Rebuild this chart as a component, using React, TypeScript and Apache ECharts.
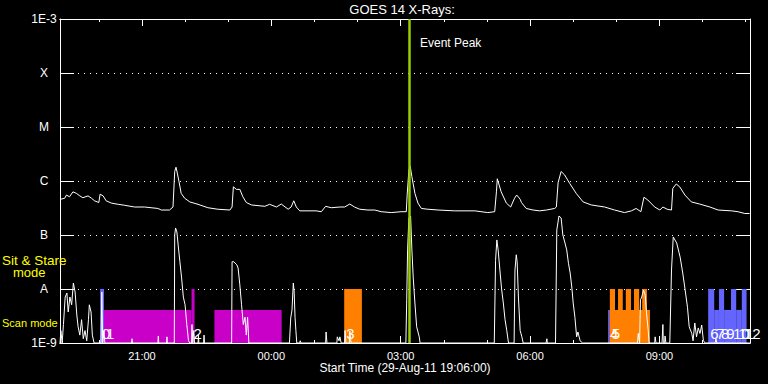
import React, { useEffect, useRef } from 'react';
import * as echarts from 'echarts';

// Time axis in hours since 29-Aug-11 00:00 UT (19.1 = 19:06)
const START_HOUR = 19.1;
const END_HOUR = 35.1;
const EVENT_PEAK_HOUR = 27.19;
const BASE_FLUX = 1e-9;

const yClassLabels: Record<number, string> = {
  '-3': '1E-3', '-4': 'X', '-5': 'M', '-6': 'C', '-7': 'B', '-8': 'A', '-9': '1E-9',
} as any;

// GOES long channel (1-8 A)
const longChannel: [number, number][] = [
  [19.10, 4.6e-7], [19.12, 4.6e-7], [19.21, 4.8e-7], [19.25, 5.5e-7], [19.32, 5.1e-7], [19.40, 6.3e-7],
  [19.48, 5.9e-7], [19.56, 5.3e-7], [19.63, 4.9e-7], [19.75, 5.3e-7], [19.83, 4.8e-7], [19.90, 4.3e-7],
  [20.00, 4.0e-7], [20.03, 5.7e-7], [20.10, 5.3e-7], [20.17, 4.3e-7], [20.29, 3.9e-7], [20.45, 3.7e-7],
  [20.60, 3.55e-7], [20.83, 3.3e-7], [21.06, 3.3e-7], [21.37, 3.1e-7], [21.45, 2.9e-7], [21.64, 2.9e-7],
  [21.72, 3.3e-7], [21.76, 1.5e-6], [21.79, 1.8e-6], [21.82, 1.4e-6], [21.86, 9.7e-7], [21.91, 5.9e-7],
  [21.99, 4.8e-7], [22.11, 4.1e-7], [22.30, 3.7e-7], [22.53, 3.2e-7], [22.76, 3.0e-7], [23.04, 2.9e-7],
  [23.09, 3.3e-7], [23.12, 7.8e-7], [23.19, 7.0e-7], [23.27, 7.0e-7], [23.34, 5.1e-7], [23.42, 4.0e-7],
  [23.54, 3.6e-7], [23.85, 3.4e-7], [23.96, 3.7e-7], [24.12, 3.3e-7], [24.23, 3.75e-7], [24.39, 3.0e-7],
  [24.46, 3.3e-7], [24.52, 4.3e-7], [24.58, 3.3e-7], [24.66, 2.8e-7], [24.85, 2.8e-7], [25.04, 2.8e-7],
  [25.16, 2.7e-7], [25.26, 3.4e-7], [25.39, 3.2e-7], [25.59, 3.3e-7], [25.70, 3.3e-7], [25.82, 3.75e-7],
  [25.93, 3.3e-7], [26.05, 3.0e-7], [26.24, 2.9e-7], [26.40, 2.9e-7], [26.55, 2.7e-7], [26.78, 2.6e-7],
  [27.01, 2.7e-7], [27.13, 2.7e-7], [27.15, 5.5e-7], [27.19, 1.6e-6], [27.22, 1.9e-6], [27.26, 1.2e-6],
  [27.33, 5.9e-7], [27.40, 3.9e-7], [27.48, 3.1e-7], [27.63, 3.0e-7], [27.87, 2.9e-7], [28.25, 2.8e-7],
  [28.72, 2.8e-7], [29.02, 2.6e-7], [29.18, 2.7e-7], [29.22, 6.3e-7], [29.24, 1.1e-6], [29.33, 6.3e-7],
  [29.45, 3.9e-7], [29.55, 3.3e-7], [29.64, 4.8e-7], [29.69, 5.5e-7], [29.77, 4.6e-7], [29.80, 4.0e-7],
  [29.91, 3.1e-7], [30.07, 2.9e-7], [30.22, 2.8e-7], [30.38, 2.9e-7], [30.57, 3.1e-7], [30.61, 3.3e-7],
  [30.65, 9.3e-7], [30.72, 1.5e-6], [30.80, 1.3e-6], [30.92, 9.0e-7], [31.07, 5.9e-7], [31.23, 4.1e-7],
  [31.42, 3.6e-7], [31.73, 3.3e-7], [31.96, 2.9e-7], [32.19, 2.6e-7], [32.35, 2.8e-7], [32.46, 3.1e-7],
  [32.57, 2.7e-7], [32.64, 5.0e-7], [32.73, 4.45e-7], [32.89, 3.3e-7], [33.01, 2.9e-7], [33.08, 3.3e-7],
  [33.18, 3.0e-7], [33.28, 2.9e-7], [33.31, 7.3e-7], [33.39, 8.8e-7], [33.47, 7.8e-7], [33.59, 5.5e-7],
  [33.74, 4.1e-7], [33.93, 3.75e-7], [34.17, 3.3e-7], [34.36, 2.9e-7], [34.67, 2.8e-7], [34.82, 2.7e-7],
  [34.98, 2.5e-7], [35.09, 2.5e-7],
];

// GOES short channel (0.5-4 A)
const shortChannel: [number, number][] = [
  [19.10, 1.0e-9], [19.12, 1.7e-9], [19.15, 1.0e-9], [19.18, 2.2e-9], [19.22, 7.1e-9], [19.26, 8.4e-9],
  [19.29, 3.75e-9], [19.33, 7.1e-9], [19.37, 5.1e-9], [19.41, 1.29e-8], [19.45, 8.8e-9], [19.49, 3.3e-9],
  [19.52, 2.0e-9], [19.56, 1.4e-9], [19.60, 2.7e-9], [19.64, 1.2e-9], [19.68, 1.7e-9], [19.72, 1.1e-9],
  [19.76, 2.7e-9], [19.78, 5.1e-9], [19.82, 3.75e-9], [19.85, 1.4e-9], [19.89, 1.0e-9], [20.05, 1.0e-9],
  [20.07, 8.8e-9], [20.09, 1.0e-9], [20.12, 1.7e-9], [20.14, 1.0e-9], [20.76, 1.0e-9], [20.77, 1.2e-9],
  [20.78, 1.0e-9], [21.37, 1.0e-9], [21.38, 1.35e-9], [21.39, 1.0e-9], [21.57, 1.0e-9], [21.58, 1.3e-9],
  [21.59, 1.0e-9], [21.75, 1.0e-9], [21.76, 1.0e-7], [21.78, 1.35e-7], [21.81, 1.14e-7], [21.84, 6.5e-8],
  [21.88, 3.2e-8], [21.92, 1.6e-8], [21.96, 7.1e-9], [22.00, 5.1e-9], [22.04, 2.2e-9], [22.08, 1.1e-9],
  [22.11, 1.0e-9], [22.15, 1.0e-9], [22.16, 2.2e-9], [22.18, 1.0e-9], [22.20, 1.7e-9], [22.22, 1.0e-9],
  [22.30, 1.0e-9], [22.31, 1.4e-9], [22.32, 1.0e-9], [22.43, 1.0e-9], [22.44, 1.4e-9], [22.45, 1.0e-9],
  [23.08, 1.0e-9], [23.09, 3.2e-8], [23.13, 3.2e-8], [23.20, 2.8e-8], [23.23, 2.45e-8], [23.27, 1.19e-8],
  [23.31, 5.1e-9], [23.35, 2.2e-9], [23.39, 3.0e-9], [23.42, 1.4e-9], [23.45, 3.0e-9], [23.48, 1.0e-9],
  [24.42, 1.0e-9], [24.45, 2.9e-9], [24.48, 4.1e-9], [24.51, 1.29e-8], [24.53, 8.8e-9], [24.55, 3.0e-9],
  [24.57, 1.7e-9], [24.59, 1.0e-9], [24.66, 1.0e-9], [24.67, 1.1e-9], [24.69, 1.0e-9], [25.26, 1.0e-9],
  [25.27, 1.6e-9], [25.29, 1.0e-9], [25.52, 1.0e-9], [25.53, 1.3e-9], [25.57, 1.1e-9], [25.59, 1.3e-9],
  [25.62, 1.0e-9], [25.70, 1.0e-9], [25.71, 1.7e-9], [25.73, 1.0e-9], [25.81, 1.0e-9], [25.82, 1.65e-9],
  [25.85, 1.0e-9], [27.12, 1.0e-9], [27.14, 6.3e-9], [27.16, 5.3e-8], [27.19, 2.07e-7], [27.23, 2.25e-7],
  [27.26, 5.3e-8], [27.29, 1.67e-8], [27.33, 5.5e-9], [27.37, 2.0e-9], [27.43, 1.3e-9], [27.45, 1.0e-9],
  [29.17, 1.0e-9], [29.20, 3.4e-8], [29.23, 8.1e-8], [29.26, 5.3e-8], [29.30, 2.25e-8], [29.34, 1.0e-8],
  [29.38, 5.5e-9], [29.42, 2.7e-9], [29.46, 1.7e-9], [29.50, 1.0e-9], [29.63, 1.0e-9], [29.65, 2.25e-8],
  [29.68, 4.3e-8], [29.70, 3.2e-8], [29.73, 7.1e-9], [29.77, 1.7e-9], [29.81, 1.3e-9], [29.84, 1.0e-9],
  [30.37, 1.0e-9], [30.39, 1.2e-9], [30.40, 1.0e-9], [30.59, 1.0e-9], [30.62, 1.24e-7], [30.67, 2.25e-7],
  [30.72, 2.07e-7], [30.76, 1.0e-7], [30.81, 7.1e-8], [30.85, 5.3e-8], [30.89, 3.0e-8], [30.93, 1.98e-8],
  [30.97, 1.04e-8], [31.00, 5.5e-9], [31.04, 3.0e-9], [31.08, 1.3e-9], [31.11, 1.6e-9], [31.16, 1.1e-9],
  [31.22, 1.0e-9], [32.49, 1.0e-9], [32.51, 1.5e-9], [32.54, 1.0e-9], [32.56, 6.3e-9], [32.59, 7.1e-9],
  [32.63, 9.6e-9], [32.67, 7.7e-9], [32.70, 3.6e-9], [32.74, 1.7e-9], [32.76, 1.0e-9], [32.89, 1.0e-9],
  [32.90, 1.3e-9], [32.92, 1.0e-9], [33.06, 1.0e-9], [33.08, 2.2e-9], [33.09, 1.0e-9], [33.12, 1.0e-9],
  [33.13, 1.35e-9], [33.15, 1.0e-9], [33.24, 1.0e-9], [33.28, 2.25e-8], [33.32, 9.2e-8], [33.40, 7.1e-8],
  [33.48, 3.9e-8], [33.54, 1.98e-8], [33.59, 1.04e-8], [33.65, 4.6e-9], [33.69, 2.0e-9], [33.75, 1.5e-9],
  [33.78, 1.1e-9], [33.82, 2.35e-9], [33.86, 1.3e-9], [33.90, 1.9e-9], [33.94, 1.5e-9], [33.98, 2.15e-9],
  [34.02, 1.1e-9], [34.06, 1.0e-9], [34.29, 1.0e-9], [34.31, 1.2e-9], [34.33, 1.0e-9], [35.10, 1.0e-9],
];

// Observation intervals
const obsStart = [20.03, 20.12, 22.15, 22.68, 25.69, 31.81, 31.85, 31.85, 32.04, 32.22, 32.41, 32.60, 34.13, 34.27, 34.38, 34.50, 34.66, 34.78, 34.91];
const obsEnd = [20.12, 22.15, 22.22, 24.24, 26.10, 31.85, 32.78, 31.97, 32.15, 32.34, 32.53, 32.71, 34.27, 34.38, 34.50, 34.66, 34.78, 34.91, 35.02];
const obsMode = ['sit', 'scan', 'sit', 'scan', 'sit', 'scan', 'scan', 'sit', 'sit', 'sit', 'sit', 'sit', 'sit', 'scan', 'sit', 'scan', 'sit', 'scan', 'sit'];
const obsInstrument = ['blue', 'magenta', 'magenta', 'magenta', 'orange', 'blue', 'orange', 'orange', 'orange', 'orange', 'orange', 'orange', 'blue', 'blue', 'blue', 'blue', 'blue', 'blue', 'blue'];
const modeLevel: Record<string, number> = { sit: 1e-8, scan: 4.1e-9 };
const instrumentColors: Record<string, string> = { blue: '#6464ff', magenta: '#c800c8', orange: '#ff8000' };

// Observation number labels
const labelHours = [20.03, 20.12, 22.15, 25.69, 31.81, 31.85, 34.13, 34.27, 34.38, 34.50, 34.66, 34.78, 34.91];
const labelTexts = ['0', '1', '2', '3', '4', '5', '6', '7', '8', '9', '10', '11', '12'];

const FONT = 'Liberation Sans, Arial, sans-serif';

function hourAxis(position: string, tickLen: number, interval: number, showLabel: boolean) {
  return {
    type: 'value',
    position,
    min: START_HOUR,
    max: END_HOUR,
    minInterval: interval,
    maxInterval: interval,
    splitNumber: Math.round(16 / interval),
    axisLine: { show: true, onZero: false, lineStyle: { color: '#fff', width: 1 } },
    axisTick: { show: true, inside: true, length: tickLen, lineStyle: { color: '#fff', width: 1 } },
    axisLabel: showLabel
      ? {
          show: true,
          color: '#fff',
          fontSize: 11,
          fontFamily: FONT,
          margin: 7,
          showMinLabel: false,
          showMaxLabel: false,
          formatter: (v: number) => {
            const h = Math.round(v);
            if (Math.abs(v - h) > 1e-6 || h % 3 !== 0) return '';
            return String(h % 24).padStart(2, '0') + ':00';
          },
        }
      : { show: false },
    splitLine: { show: false },
  };
}

export default function App() {
  const ref = useRef<HTMLDivElement>(null);
  useEffect(() => {
    document.body.style.margin = '0';
    const chart = echarts.init(ref.current!, null, { renderer: 'svg' });
    const option: any = {
      animation: false,
      backgroundColor: '#000',
      grid: { left: 60, top: 19, width: 690, height: 324, show: false },
      xAxis: [
        hourAxis('bottom', 3, 1, false),
        hourAxis('bottom', 7, 3, true),
        hourAxis('top', 3, 1, false),
        hourAxis('top', 7, 3, false),
      ],
      yAxis: [
        {
          type: 'log',
          logBase: 10,
          min: 1e-9,
          max: 1e-3,
          splitNumber: 6,
          position: 'left',
          axisLine: { show: true, onZero: false, lineStyle: { color: '#fff', width: 1 } },
          axisTick: { show: true, inside: true, length: 14, lineStyle: { color: '#fff', width: 1 } },
          axisLabel: {
            color: '#fff',
            fontSize: 12,
            fontFamily: FONT,
            margin: 16,
            align: 'center',
            formatter: (v: number) => yClassLabels[Math.round(Math.log10(v))] ?? '',
          },
          splitLine: { show: true, lineStyle: { color: '#fff', type: [1, 5], width: 1 } },
        },
        {
          type: 'log',
          logBase: 10,
          min: 1e-9,
          max: 1e-3,
          splitNumber: 6,
          position: 'right',
          axisLine: { show: true, onZero: false, lineStyle: { color: '#fff', width: 1 } },
          axisTick: { show: true, inside: true, length: 14, lineStyle: { color: '#fff', width: 1 } },
          axisLabel: { show: false },
          splitLine: { show: false },
        },
      ],
      graphic: [
        {
          type: 'text', x: 402, y: 3, z: 10,
          style: { text: 'GOES 14 X-Rays:', fill: '#fff', fontSize: 13, fontFamily: FONT, align: 'center', textAlign: 'center', verticalAlign: 'top', textVerticalAlign: 'top' },
        },
        {
          type: 'text', x: 420, y: 37, z: 10,
          style: { text: 'Event Peak', fill: '#fff', fontSize: 12, fontFamily: FONT, align: 'left', textAlign: 'left', verticalAlign: 'top', textVerticalAlign: 'top' },
        },
        {
          type: 'text', x: 405, y: 362, z: 10,
          style: { text: 'Start Time (29-Aug-11 19:06:00)', fill: '#fff', fontSize: 12, fontFamily: FONT, align: 'center', textAlign: 'center', verticalAlign: 'top', textVerticalAlign: 'top' },
        },
        {
          type: 'text', x: 2, y: 253, z: 10,
          style: { text: 'Sit & Stare', fill: '#ffff00', fontSize: 13.5, fontFamily: FONT, verticalAlign: 'top', textVerticalAlign: 'top' },
        },
        {
          type: 'text', x: 13, y: 266, z: 10,
          style: { text: 'mode', fill: '#ffff00', fontSize: 13, fontFamily: FONT, verticalAlign: 'top', textVerticalAlign: 'top' },
        },
        {
          type: 'text', x: 2, y: 317, z: 10,
          style: { text: 'Scan mode', fill: '#ffff00', fontSize: 11, fontFamily: FONT, verticalAlign: 'top', textVerticalAlign: 'top' },
        },
      ],
      series: [
        {
          type: 'custom',
          xAxisIndex: 0,
          yAxisIndex: 0,
          z: 1,
          silent: true,
          encode: { x: [0, 1], y: 2 },
          data: obsStart.map((s, i) => [s, obsEnd[i], modeLevel[obsMode[i]]]),
          renderItem: (params: any, api: any) => {
            const i = params.dataIndex;
            const p0 = api.coord([api.value(0), api.value(2)]);
            const p1 = api.coord([api.value(1), BASE_FLUX]);
            return {
              type: 'rect',
              shape: { x: p0[0], y: p0[1], width: p1[0] - p0[0], height: p1[1] - p0[1] },
              style: { fill: instrumentColors[obsInstrument[i]] },
            };
          },
        },
        {
          type: 'line',
          xAxisIndex: 0,
          yAxisIndex: 0,
          z: 3,
          showSymbol: false,
          silent: true,
          lineStyle: { color: '#fff', width: 1 },
          data: longChannel,
        },
        {
          type: 'line',
          xAxisIndex: 0,
          yAxisIndex: 0,
          z: 3,
          showSymbol: false,
          silent: true,
          lineStyle: { color: '#fff', width: 1 },
          data: shortChannel,
          markLine: {
            silent: true,
            symbol: ['none', 'none'],
            label: { show: false },
            lineStyle: { color: '#9acd00', width: 2.5, type: 'solid' },
            data: [{ xAxis: EVENT_PEAK_HOUR }],
          },
        },
        {
          type: 'custom',
          xAxisIndex: 0,
          yAxisIndex: 0,
          z: 4,
          silent: true,
          encode: { x: 0, y: 1 },
          data: labelHours.map((h) => [h, BASE_FLUX]),
          renderItem: (params: any, api: any) => {
            const p = api.coord([api.value(0), api.value(1)]);
            return {
              type: 'text',
              x: p[0] + 2,
              y: p[1] - 10,
              style: {
                text: labelTexts[params.dataIndex],
                fill: '#fff',
                fontSize: 15,
                fontFamily: FONT,
                align: 'left',
                verticalAlign: 'middle',
              },
            };
          },
        },
      ],
    };
    chart.setOption(option);
    return () => chart.dispose();
  }, []);
  return (
    <div
      ref={ref}
      style={{ position: 'fixed', left: 0, top: 0, width: 768, height: 384, background: '#000' }}
    />
  );
}
